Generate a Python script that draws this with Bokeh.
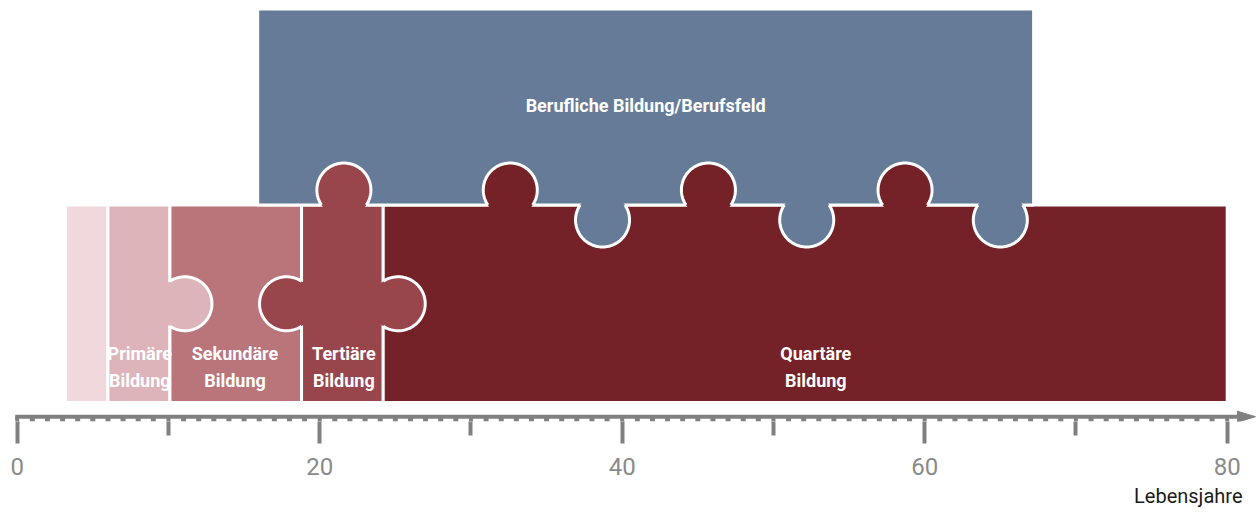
import math
from bokeh.plotting import figure
from bokeh.models import Range1d, LinearAxis, FixedTicker, Title
from bokeh.embed import file_html
from bokeh.resources import INLINE
from bokeh.core.properties import value

# ---------------- data ----------------
stage_labels = ["", "Primäre\nBildung", "Sekundäre\nBildung", "Tertiäre\nBildung", "Quartäre\nBildung"]
stage_start = [3.2, 6.0, 10.1, 18.8, 24.2]
stage_end = [6.0, 10.1, 18.8, 24.2, 80.0]
stage_label_x = [4.6, 8.1, 14.4, 21.6, 52.8]
stage_colors = ["#F0D8DC", "#DCB4B9", "#B9757A", "#99454C", "#742228"]

job_label = "Berufliche Bildung/Berufsfeld"
job_start = [15.9]
job_end = [67.2]
job_color = "#667B98"

# puzzle knobs (ages, in years)
up_knob_x = [21.6, 32.6, 45.7, 58.7]          # education pieces reaching into the job field
up_knob_owner = [3, 4, 4, 4]
down_knob_x = [38.7, 52.2, 65.0]              # job field reaching into quaternary education
side_knob_at = [10.1, 18.8, 24.2]             # boundaries between stages
side_knob_dir = [1, -1, 1]
side_knob_owner = [1, 3, 3]

tick_major = [0, 20, 40, 60, 80]
tick_mid = [10, 30, 50, 70]
tick_years = list(range(0, 81))
axis_title = "Lebensjahre"

# ---------------- layout ----------------
FW, FH = 1256, 421
PX = 15.125                      # pixels per year
X0 = -16.7 / PX
X1 = X0 + FW / PX
Y_AXIS = 4.8
BAND_BOTTOM = 19.0
SPLIT = 216.5
TOP = 412.5
R = 27.0
D = 15.0
GRAY = "#808080"
FONT = "Roboto"

p = figure(frame_width=FW, frame_height=FH, x_range=Range1d(X0, X1), y_range=Range1d(0, FH),
           output_backend="svg", toolbar_location=None, x_axis_location=None, y_axis_location=None,
           min_border=0, outline_line_color=None, background_fill_color="white")
p.xgrid.visible = False
p.ygrid.visible = False

# pieces
p.quad(left=stage_start, right=stage_end, bottom=BAND_BOTTOM, top=SPLIT,
       fill_color=stage_colors, line_color="white", line_width=3)
p.quad(left=job_start, right=job_end, bottom=SPLIT, top=TOP,
       fill_color=job_color, line_color="white", line_width=3)


def pts(cx, cy, a0, a1, n=72):
    xs, ys = [], []
    for i in range(n + 1):
        t = a0 + (a1 - a0) * i / n
        xs.append(cx + R * math.cos(t) / PX)
        ys.append(cy + R * math.sin(t))
    return xs, ys


alpha = math.asin(D / R)
mid_y = (BAND_BOTTOM + SPLIT) / 2
knobs = []  # (cx, cy, color, a0, a1)
for x, o in zip(up_knob_x, up_knob_owner):
    knobs.append((x, SPLIT + D, stage_colors[o], -alpha, math.pi + alpha))
for x in down_knob_x:
    knobs.append((x, SPLIT - D, job_color, math.pi - alpha, 2 * math.pi + alpha))
for b, d, o in zip(side_knob_at, side_knob_dir, side_knob_owner):
    cx = b + d * D / PX
    if d > 0:
        knobs.append((cx, mid_y, stage_colors[o], -(math.pi / 2 + alpha), math.pi / 2 + alpha))
    else:
        knobs.append((cx, mid_y, stage_colors[o], math.pi / 2 - alpha, 1.5 * math.pi + alpha))

fx, fy, fc, ax_, ay_ = [], [], [], [], []
for cx, cy, c, a0, a1 in knobs:
    xs, ys = pts(cx, cy, 0, 2 * math.pi)
    fx.append(xs); fy.append(ys); fc.append(c)
    xs, ys = pts(cx, cy, a0, a1)
    ax_.append(xs); ay_.append(ys)
p.patches(xs=fx, ys=fy, fill_color=fc, line_color=None)
p.multi_line(xs=ax_, ys=ay_, line_color="white", line_width=3)

# labels
l1x, l1t, l2x, l2t = [], [], [], []
for lab, x in zip(stage_labels, stage_label_x):
    if not lab:
        continue
    a, b = lab.split("\n")
    l1x.append(x); l1t.append(a)
    l2x.append(x); l2t.append(b)
p.text(x=l1x, y=68.5, text=l1t, text_font=value(FONT), text_font_style="bold", text_font_size="18px",
       text_color="white", text_align="center", text_baseline="alphabetic")
p.text(x=l2x, y=41.5, text=l2t, text_font=value(FONT), text_font_style="bold", text_font_size="18px",
       text_color="white", text_align="center", text_baseline="alphabetic")
p.text(x=[(job_start[0] + job_end[0]) / 2], y=316, text=[job_label], text_font=value(FONT),
       text_font_style="bold", text_font_size="18px", text_color="white",
       text_align="center", text_baseline="alphabetic")

# axis line, year dashes, arrow
ARROW_TIP = X1 - 0.07
ARROW_BASE = ARROW_TIP - 18 / PX
p.segment(x0=[-2 / PX], y0=[Y_AXIS], x1=[ARROW_BASE + 0.1], y1=[Y_AXIS], line_color=GRAY, line_width=4)
minor_years = [t for t in tick_years if t % 10 != 0]
ten_years = [t for t in tick_years if t % 10 == 0]
p.segment(x0=minor_years, y0=0, x1=minor_years, y1=Y_AXIS, line_color=GRAY, line_width=5)
p.segment(x0=ten_years, y0=0, x1=ten_years, y1=Y_AXIS, line_color=GRAY, line_width=4)
p.patch(x=[ARROW_BASE, ARROW_TIP, ARROW_BASE], y=[Y_AXIS + 5.5, Y_AXIS, Y_AXIS - 5.5],
        fill_color=GRAY, line_color=GRAY, line_width=1)

ax = LinearAxis(ticker=FixedTicker(ticks=tick_major, minor_ticks=tick_mid),
                axis_line_color=None,
                major_tick_in=0, major_tick_out=22, major_tick_line_color=GRAY, major_tick_line_width=4,
                minor_tick_in=0, minor_tick_out=14, minor_tick_line_color=GRAY, minor_tick_line_width=4,
                major_label_text_font=FONT, major_label_text_font_size="24px",
                major_label_text_color="#8a8a8a", major_label_standoff=14)
p.add_layout(ax, "below")

t = Title(text=axis_title, align="right", offset=14, standoff=8,
          text_font=FONT, text_font_size="20px", text_font_style="normal", text_color="#1a1a1a")
p.add_layout(t, "below")

open("out.html", "w").write(file_html(p, INLINE))
